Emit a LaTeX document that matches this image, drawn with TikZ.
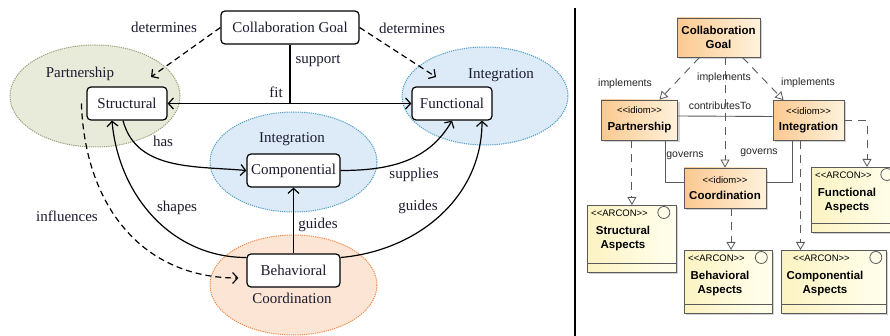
\documentclass[tikz,border=0pt]{standalone}
\usepackage{fontspec}
\setmainfont{Liberation Serif}
\newfontfamily\umlfont{Liberation Sans}
\usetikzlibrary{arrows.meta,shapes.geometric,shadows}
\definecolor{ink}{HTML}{1C1C30}
\definecolor{olfill}{HTML}{E8EBD9}
\definecolor{oldraw}{HTML}{9C9E78}
\definecolor{blfill}{HTML}{DCEBF7}
\definecolor{bldraw}{HTML}{4F9EC4}
\definecolor{orfill}{HTML}{FDE5D5}
\definecolor{ordraw}{HTML}{F08A48}
\definecolor{idiomL}{HTML}{FBC990}
\definecolor{idiomR}{HTML}{FFF2DC}
\definecolor{arconL}{HTML}{FCF3C2}
\definecolor{arconR}{HTML}{FFFFEE}
\definecolor{umlgray}{HTML}{5A5A5A}
\definecolor{umltext}{HTML}{262626}
\tikzset{
  lbox/.style={draw=black, line width=1.2pt, rounded corners=4pt, fill=white, text=ink,
    font=\fontsize{15}{18}\selectfont, inner sep=0pt},
  lbl/.style={text=ink, font=\fontsize{15}{18}\selectfont, inner sep=0pt},
  region/.style={ellipse, line width=1pt, dash pattern=on 1.2pt off 1pt, inner sep=0pt},
  barb/.tip={Straight Barb[length=5pt,width=11pt]},
  conn/.style={line width=1.2pt, draw=black, -barb},
  dsh/.style={dash pattern=on 6pt off 4pt},
  idiom/.style={draw=umlgray, line width=0.8pt, left color=idiomL, right color=idiomR,
    drop shadow={shadow xshift=2pt, shadow yshift=-2pt, fill=black!35},
    inner sep=0pt, align=center, text=black, font=\umlfont\fontsize{11.5}{13.5}\selectfont},
  arcon/.style={draw=umlgray, line width=0.8pt, left color=arconL, right color=arconR,
    drop shadow={shadow xshift=2pt, shadow yshift=-2pt, fill=black!35}, inner sep=0pt},
  real/.style={draw=umlgray, line width=0.9pt, dash pattern=on 8pt off 6pt,
    -{Triangle[open,length=8pt,width=9pt,line width=0.8pt]}},
  assoc/.style={draw=umlgray, line width=0.9pt},
  ulbl/.style={font=\umlfont\fontsize{10.5}{12}\selectfont, text=umltext, inner sep=0pt},
  stereo/.style={font=\umlfont\fontsize{9.5}{11}\selectfont, text=black, inner sep=0pt},
  aname/.style={font=\umlfont\bfseries\fontsize{11.5}{14}\selectfont, text=black, inner sep=0pt, align=center}
}
% name, x, y, w, h, stereo x-offset, circle offset from right, text x-offset, text
\newcommand\arconbox[9]{%
  \node[arcon, anchor=north west, minimum width=#4, minimum height=#5] (#1) at (#2,#3) {};
  \draw[draw=umlgray, line width=0.8pt] ([yshift=9.5pt]#1.south west) -- ([yshift=9.5pt]#1.south east);
  \node[stereo, anchor=west] (#1s) at ([xshift=#6pt,yshift=-8pt]#1.north west) {<<ARCON>>};
  \draw[draw=umlgray, line width=0.8pt] ([xshift=-#7pt,yshift=-7.5pt]#1.north east) circle[radius=6pt];
  \node[aname] (#1t) at ([xshift=#8pt,yshift=-34pt]#1.north west) {#9};
}
\begin{document}
\begin{tikzpicture}[x=1pt,y=-1pt]
\clip (0,0) rectangle (890,336);
\fill[white] (0,0) rectangle (890,336);

% ---------- left panel ----------
\node[region, fill=olfill, draw=oldraw, minimum width=170, minimum height=102] (pe) at (95,96) {};
\node[region, fill=blfill, draw=bldraw, minimum width=166, minimum height=98] (ie) at (485,96) {};
\node[region, fill=blfill, draw=bldraw, minimum width=167, minimum height=100] (me) at (293.5,162) {};
\node[region, fill=orfill, draw=ordraw, minimum width=167, minimum height=100] (ce) at (293.5,285) {};

\node[lbl] (lp) at (80,74) {Partnership};
\node[lbl] (li) at (501,75) {Integration};
\node[lbl] (lm) at (292,139) {Integration};
\node[lbl] (lc) at (292,298) {Coordination};

\node[lbox, minimum width=138, minimum height=33] (goal) at (290,27.5) {Collaboration Goal};
\node[lbox, minimum width=80, minimum height=33] (st) at (127,103.5) {Structural};
\node[lbox, minimum width=80, minimum height=33] (fu) at (452,103.5) {Functional};
\node[lbox, minimum width=93, minimum height=33] (co) at (293.5,170.5) {Componential};
\node[lbox, minimum width=93, minimum height=33] (be) at (293.5,270.5) {Behavioral};

\coordinate (dl) at (151,77);
\coordinate (dr) at (436,77);
\draw[conn, dsh] (goal.west) -- (dl);
\draw[conn, dsh] (goal.east) -- (dr);
\draw[line width=1.2pt] (goal.south) -- (goal.south |- st.east);
\draw[conn, barb-barb] (st.east) -- (fu.west);
\draw[conn] ([xshift=-4pt]st.south) to[out=-75,in=175] (co.west);
\draw[conn] (co.east) to[out=0,in=-120] (fu.south);
\draw[conn] ([yshift=13pt]be.east) to[out=5,in=-90] ([xshift=30pt]fu.south);
\draw[conn] ([yshift=13pt]be.west) to[out=180,in=-85] ([xshift=-15pt]st.south);
\draw[conn, dsh, shorten >=8pt] ([xshift=-5pt]st.west) to[out=-88,in=180,looseness=1.1] ([yshift=-7.5pt]be.west);
\draw[conn] (be.north) -- (co.south);

\node[lbl] (t1) at (164,27) {determines};
\node[lbl] (t2) at (412,28) {determines};
\node[lbl] (t3) at (318,60.5) {support};
\node[lbl] (t4) at (276,92) {fit};
\node[lbl] (t5) at (163,141) {has};
\node[lbl] (t6) at (414,175) {supplies};
\node[lbl] (t7) at (418,207) {guides};
\node[lbl] (t8) at (318,225) {guides};
\node[lbl] (t9) at (177,208) {shapes};
\node[lbl] (t10) at (67,216) {influences};

% separator
\draw[line width=2pt] (575,8) -- (575,336);

% ---------- right panel ----------
\node[idiom, font=\umlfont\bfseries\fontsize{11.5}{13.5}\selectfont, minimum width=83, minimum height=39] (cg) at (718.5,37.5) {Collaboration\\Goal};
\node[idiom, minimum width=76, minimum height=40] (ip) at (639.5,120) {{\fontsize{9.5}{10}\selectfont <<idiom>>}\\[3pt]\textbf{Partnership}};
\node[idiom, minimum width=71, minimum height=40] (ii) at (808.5,120.5) {{\fontsize{9.5}{10}\selectfont <<idiom>>}\\[3pt]\textbf{Integration}};
\node[idiom, minimum width=82, minimum height=40] (ic) at (725,188) {{\fontsize{9.5}{10}\selectfont <<idiom>>}\\[3pt]\textbf{Coordination}};

\arconbox{sa}{587}{205}{89}{67}{4}{13}{36}{Structural\\Aspects}
\arconbox{ba}{684}{250}{88}{63}{4}{11.5}{36}{Behavioral\\Aspects}
\arconbox{ca}{781}{250}{105}{63}{12}{11}{44}{Componential\\Aspects}
\arconbox{fa}{811}{167}{90}{65}{4}{15}{36}{Functional\\Aspects}

\draw[assoc] ([yshift=4pt]ip.east) -- ([yshift=4pt]ii.west);
\draw[assoc] ([xshift=26pt]ip.south) |- ([yshift=6pt]ic.west);
\draw[assoc] ([xshift=-16.5pt]ii.south) |- ([yshift=6pt]ic.east);

\draw[real] ([xshift=-19pt]cg.south) -- ([xshift=20pt]ip.north);
\draw[real] (cg.south -| ic.north) -- (ic.north);
\draw[real] ([xshift=24pt]cg.south) -- ([xshift=-25pt]ii.north);
\draw[real] (ip.south -| sa.north) -- (sa.north);
\draw[real] ([xshift=6pt]ic.south) -- ([xshift=6pt]ic.south |- ba.north);
\draw[real] ([xshift=-8pt]ii.south) -- ([xshift=-8pt]ii.south |- ca.north);
\draw[real] (ii.east) -| ([xshift=56pt]fa.north west);

\node[ulbl] (u1) at (625,84) {implements};
\node[ulbl] (u2) at (724,78) {implements};
\node[ulbl] (u3) at (808,83) {implements};
\node[ulbl] (u4) at (720,106) {contributesTo};
\node[ulbl] (u5) at (685,156) {governs};
\node[ulbl] (u6) at (759,153) {governs};
\end{tikzpicture}
\end{document}
